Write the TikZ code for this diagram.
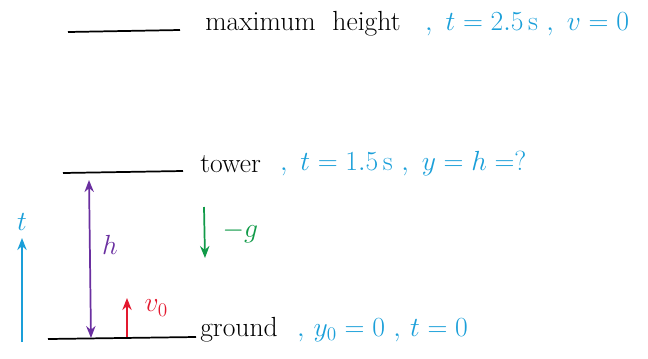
\documentclass[tikz,border=0pt]{standalone}
\usetikzlibrary{arrows.meta, positioning}
\definecolor{infoBlue}{HTML}{1A9FD9}
\definecolor{hPurple}{HTML}{6A2FA0}
\definecolor{gGreen}{HTML}{109A48}
\definecolor{vRed}{HTML}{E3192F}

\begin{document}
\begin{tikzpicture}[
    x=0.75pt, y=-0.75pt,
    level/.style={line width=1.3pt, black},
    word/.style={anchor=west, font=\huge, inner sep=0pt},
    info/.style={anchor=west, font=\huge, inner sep=0pt, text=infoBlue},
    arr/.style={-{Stealth[length=9pt, width=7pt]}, line width=1.3pt},
  ]
    \useasboundingbox (0,0) rectangle (648,358);

    % levels
    \coordinate (maxL) at (68,32);  \coordinate (maxR) at (180,30);
    \coordinate (towL) at (63,173); \coordinate (towR) at (183,171);
    \coordinate (grdL) at (48,339); \coordinate (grdR) at (196,337);
    \draw[level] (maxL) -- (maxR);
    \draw[level] (towL) -- (towR);
    \draw[level] (grdL) -- (grdR);

    % labels of the levels
    \node[word] (maxlab) at (205,24) {maximum\ \ height};
    \node[info, right=18pt of maxlab] (maxinfo) {$,\ t=2.5\,\mathrm{s}\ ,\ v=0$};
    \node[word] (towlab) at (200,164) {tower};
    \node[info, right=14pt of towlab] (towinfo) {$,\ t=1.5\,\mathrm{s}\ ,\ y=h=?$};
    \node[word] (grdlab) at (200,330) {ground};
    \node[info, right=14pt of grdlab] (grdinfo) {$,\,y_0=0\ ,\,t=0$};

    % arrows
    \coordinate (hTop) at (89,180);  \coordinate (hBot) at (91,338);
    \draw[arr, hPurple, {Stealth[length=9pt, width=7pt]}-{Stealth[length=9pt, width=7pt]}] (hBot) -- (hTop);
    \node[text=hPurple, font=\huge] (hlab) at (110,245) {$h$};

    \coordinate (gTop) at (204,207); \coordinate (gBot) at (205,258);
    \draw[arr, gGreen] (gTop) -- (gBot);
    \node[text=gGreen, font=\huge, anchor=west] (glab) at (218,232) {$-g$};

    \coordinate (vBot) at (127,337); \coordinate (vTop) at (127,298);
    \draw[arr, vRed] (vBot) -- (vTop);
    \node[text=vRed, font=\huge, anchor=west] (vlab) at (140,308) {$v_0$};

    \coordinate (tBot) at (22,342); \coordinate (tTop) at (22,238);
    \draw[arr, infoBlue] (tBot) -- (tTop);
    \node[text=infoBlue, font=\huge, above=2pt of tTop] (tlab) {$t$};
\end{tikzpicture}
\end{document}
